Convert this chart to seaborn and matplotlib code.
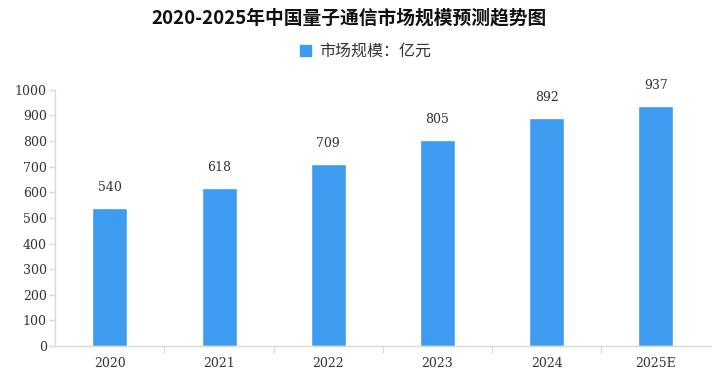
import matplotlib
matplotlib.use("Agg")
import matplotlib.pyplot as plt
import seaborn as sns
import pandas as pd
from matplotlib.patches import Patch

years = ["2020", "2021", "2022", "2023", "2024", "2025E"]
values = [540, 618, 709, 805, 892, 937]
title = "2020-2025年中国量子通信市场规模预测趋势图"
legend_label = "市场规模：亿元"
yticks = list(range(0, 1001, 100))

sns.set_theme(style="white")
plt.rcParams['font.family'] = ['Noto Sans CJK SC', 'DejaVu Sans']

df = pd.DataFrame({"year": years, "value": values})
color = "#3d9bf0"

fig = plt.figure(figsize=(7.17, 3.84), dpi=100)
ax = fig.add_axes([0.077, 0.099, 0.914, 0.667])
sns.barplot(data=df, x="year", y="value", color=color, width=0.32, ax=ax, saturation=1)

ax.set_ylim(0, 1000)
ax.set_xlim(-0.5, len(years) - 0.5)
ax.set_yticks(yticks)
ax.set_xlabel("")
ax.set_ylabel("")
num_font = dict(family=['DejaVu Serif'], size=9, color="#333333")
ax.set_yticklabels([str(t) for t in yticks], fontdict=num_font)
ax.set_xticks(range(len(years)))
ax.set_xticklabels(years, fontdict=num_font)
ax.tick_params(axis='x', length=0, pad=8)
ax.tick_params(axis='y', length=4, color="#d9d9d9", width=1, pad=2, left=True)

# minor ticks between categories on x axis
ax.set_xticks([i + 0.5 for i in range(len(years) - 1)], minor=True)
ax.tick_params(axis='x', which='minor', length=5, color="#d9d9d9", width=1, bottom=True)

for s in ["top", "right"]:
    ax.spines[s].set_visible(False)
for s in ["left", "bottom"]:
    ax.spines[s].set_color("#d9d9d9")
    ax.spines[s].set_linewidth(1)

for i, v in enumerate(values):
    ax.text(i, v + 80, str(v), ha="center", va="center", fontdict=num_font)

fig.text(0.487, 0.953, title, ha="center", va="center", fontsize=13.5, fontweight="bold", color="#111111")
handles = [Patch(facecolor=color, edgecolor=color, label=legend_label)]
fig.legend(handles=handles, loc="center", bbox_to_anchor=(0.51, 0.866), frameon=False,
           fontsize=11.5, handlelength=0.7, handleheight=0.7, handletextpad=0.5,
           labelcolor="#333333")

fig.savefig("out.png", dpi=100)
